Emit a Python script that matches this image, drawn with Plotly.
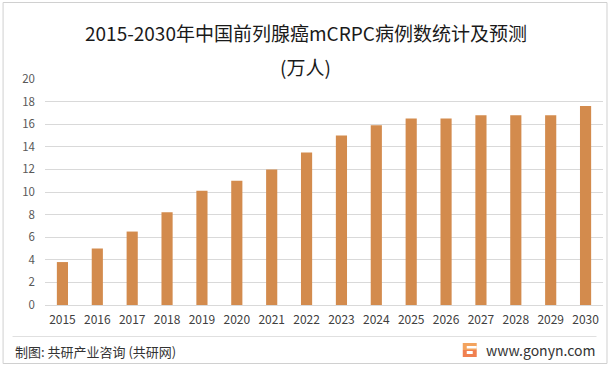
import plotly.graph_objects as go

years = ["2015", "2016", "2017", "2018", "2019", "2020", "2021", "2022",
         "2023", "2024", "2025", "2026", "2027", "2028", "2029", "2030"]
cases = [3.8, 5.0, 6.5, 8.2, 10.1, 11.0, 12.0, 13.5,
         15.0, 15.9, 16.5, 16.5, 16.8, 16.8, 16.8, 17.6]
y_ticks = [0, 2, 4, 6, 8, 10, 12, 14, 16, 18, 20]

title_line1 = "2015-2030年中国前列腺癌mCRPC病例数统计及预测"
title_line2 = "(万人)"
source_text = "制图: 共研产业咨询 (共研网)"
site_text = "www.gonyn.com"

FONT = "Noto Sans CJK SC, Noto Sans, sans-serif"

W, H = 611, 370
L, R, T, B = 44.5, 7.5, 79, 65
pw = W - L - R
ph = H - T - B


def px_x(v):
    return (v - L) / pw


def px_y(v):
    return 1 - (v - T) / ph


fig = go.Figure(go.Bar(
    x=years, y=cases,
    marker=dict(color="#D38B4D", line=dict(width=0)),
    hoverinfo="x+y",
))

fig.update_layout(
    width=W, height=H,
    margin=dict(l=L, r=R, t=T, b=B),
    paper_bgcolor="white", plot_bgcolor="white",
    bargap=0.68,
    showlegend=False,
    font=dict(family=FONT, color="#595959"),
    xaxis=dict(
        type="category", showgrid=False, showline=False, ticks="",
        tickfont=dict(size=12, color="#404040"),
        ticklabelstandoff=6,
    ),
    yaxis=dict(
        range=[0, 20], tickvals=y_ticks, showgrid=True,
        gridcolor="#D9D9D9", gridwidth=1, zeroline=True,
        zerolinecolor="#D9D9D9", zerolinewidth=1,
        showline=False, ticks="",
        tickfont=dict(size=11.5, color="#595959"),
        ticklabelstandoff=9,
    ),
    annotations=[
        dict(text=title_line1, x=px_x(305.5), y=px_y(33), xref="paper", yref="paper",
             xanchor="center", yanchor="middle",
             showarrow=False, font=dict(size=19, color="#1a1a1a", family=FONT)),
        dict(text=title_line2, x=px_x(305.5), y=px_y(66), xref="paper", yref="paper",
             xanchor="center", yanchor="middle",
             showarrow=False, font=dict(size=19, color="#1a1a1a", family=FONT)),
        dict(text=source_text, x=px_x(12), y=px_y(351), xref="paper", yref="paper",
             xanchor="left", yanchor="middle", showarrow=False,
             font=dict(size=13, color="#333333", family=FONT)),
        dict(text=site_text, x=px_x(597), y=px_y(350), xref="paper", yref="paper",
             xanchor="right", yanchor="middle", showarrow=False,
             font=dict(size=14, color="#333333", family=FONT)),
    ],
    shapes=[
        dict(type="rect", xref="paper", yref="paper",
             x0=px_x(2.5), x1=px_x(607.5), y0=px_y(2.5), y1=px_y(363.5),
             line=dict(color="#D0D0D0", width=1), fillcolor="rgba(0,0,0,0)", layer="below"),
        dict(type="line", xref="paper", yref="paper",
             x0=px_x(12), x1=px_x(597), y0=px_y(336.5), y1=px_y(336.5),
             line=dict(color="#E0E0E0", width=1)),
        # logo
        dict(type="rect", xref="paper", yref="paper",
             x0=px_x(463), x1=px_x(477), y0=px_y(343), y1=px_y(350),
             line=dict(width=0), fillcolor="#F3A35E"),
        dict(type="rect", xref="paper", yref="paper",
             x0=px_x(463), x1=px_x(477), y0=px_y(350), y1=px_y(357),
             line=dict(width=0), fillcolor="#F08050"),
        dict(type="rect", xref="paper", yref="paper",
             x0=px_x(467), x1=px_x(477), y0=px_y(346), y1=px_y(348.5),
             line=dict(width=0), fillcolor="white"),
        dict(type="rect", xref="paper", yref="paper",
             x0=px_x(467), x1=px_x(473), y0=px_y(351), y1=px_y(354),
             line=dict(width=0), fillcolor="white"),
    ],
)

fig.write_html(
    "out.html",
    config={"displayModeBar": False},
    post_script="document.body.style.margin='0';document.body.style.overflow='hidden';",
)
